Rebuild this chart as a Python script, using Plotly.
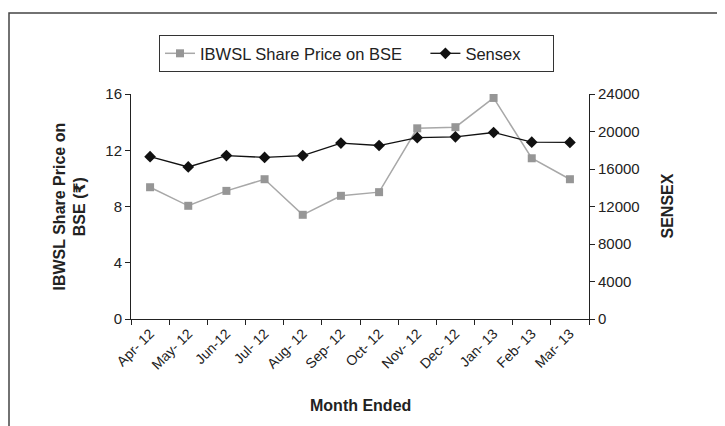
import plotly.graph_objects as go

months = ["Apr- 12", "May- 12", "Jun-12", "Jul- 12", "Aug- 12", "Sep- 12",
          "Oct- 12", "Nov- 12", "Dec- 12", "Jan- 13", "Feb- 13", "Mar- 13"]
ibwsl_price = [9.37, 8.05, 9.11, 9.94, 7.41, 8.76, 9.02, 13.56, 13.64, 15.72, 11.43, 9.94]
sensex = [17318, 16219, 17430, 17236, 17429, 18763, 18505, 19340, 19427, 19895, 18862, 18836]

left_ticks = [0, 4, 8, 12, 16]
right_ticks = [0, 4000, 8000, 12000, 16000, 20000, 24000]
right_labels = [str(v) for v in right_ticks]

FONT = "Liberation Sans, Arial, DejaVu Sans, sans-serif"
TXT = "#222222"
NB = "\u00a0"

fig = go.Figure()
fig.add_trace(go.Scatter(
    x=months, y=ibwsl_price, name="IBWSL Share Price on BSE" + NB * 4,
    mode="lines+markers",
    line=dict(color="#a8a8a8", width=1.5),
    marker=dict(symbol="square", size=8, color="#969696"),
))
fig.add_trace(go.Scatter(
    x=months, y=sensex, name="Sensex" + NB * 6, yaxis="y2",
    mode="lines+markers",
    line=dict(color="#111111", width=1.3),
    marker=dict(symbol="diamond", size=9, color="#111111"),
))

# target screen positions (page has an 8px body margin)
OFF = 8
W, H = 725 - OFF, 426 - OFF
L, R, T, B = 131, 589, 94, 319.3
pw, ph = R - L, B - T

def px(x):
    return (x - L) / pw

def py(y):
    return (B - y) / ph

line_style = dict(showline=True, linecolor="#222222", linewidth=1,
                  ticks="outside", ticklen=5, tickcolor="#222222",
                  showgrid=False, zeroline=False)

fig.update_layout(
    width=W, height=H,
    margin=dict(l=L - OFF, r=(W + OFF) - R, t=T - OFF, b=(H + OFF) - B, pad=0),
    paper_bgcolor="white", plot_bgcolor="white",
    font=dict(family=FONT, color=TXT),
    xaxis=dict(type="category", range=[-0.5, 11.5], tickson="boundaries",
               tickangle=-45, tickfont=dict(family=FONT, size=14, color=TXT),
               **line_style),
    yaxis=dict(range=[0, 16], tickvals=left_ticks,
               tickfont=dict(family=FONT, size=15, color=TXT), **line_style),
    yaxis2=dict(range=[0, 24000], tickvals=right_ticks, ticktext=right_labels,
                overlaying="y", side="right",
                tickfont=dict(family=FONT, size=15, color=TXT), **line_style),
    legend=dict(orientation="h", x=px(159), y=py(35), xanchor="left", yanchor="top",
                bordercolor="#333333", borderwidth=1, bgcolor="white",
                font=dict(family=FONT, size=16.5, color=TXT)),
    shapes=[dict(type="rect", xref="paper", yref="paper",
                 x0=px(9), x1=px(740), y0=py(440), y1=py(13),
                 line=dict(color="#444444", width=1.5), layer="below")],
    annotations=[
        dict(text="<b>IBWSL Share Price on<br>BSE (₹)</b>", xref="paper", yref="paper",
             x=px(69), y=0.5, xanchor="center", yanchor="middle", textangle=-90,
             showarrow=False, font=dict(family=FONT, size=16, color=TXT)),
        dict(text="<b>SENSEX</b>", xref="paper", yref="paper",
             x=px(667), y=0.5, xanchor="center", yanchor="middle", textangle=-90,
             showarrow=False, font=dict(family=FONT, size=16, color=TXT)),
        dict(text="<b>Month Ended</b>", xref="paper", yref="paper",
             x=0.5, y=py(406), xanchor="center", yanchor="middle",
             showarrow=False, font=dict(family=FONT, size=16, color=TXT)),
    ],
)

fig.write_html("out.html")
